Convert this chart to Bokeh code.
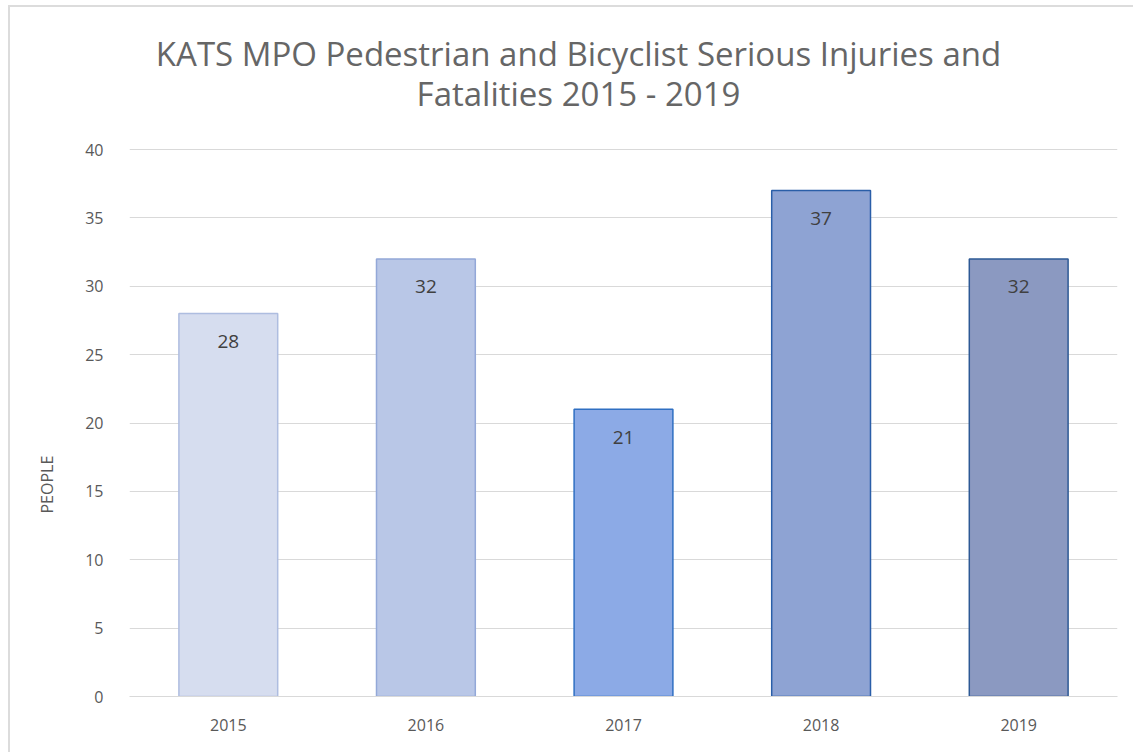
from bokeh.plotting import figure
from bokeh.models import ColumnDataSource, FactorRange, Range1d, LabelSet, FixedTicker, Title
from bokeh.core.properties import value
from bokeh.embed import file_html
from bokeh.resources import INLINE

years = ["2015", "2016", "2017", "2018", "2019"]
people = [28, 32, 21, 37, 32]
fill_colors = ["#d6ddef", "#b9c7e7", "#8caae6", "#8ea3d3", "#8b99c1"]
line_colors = ["#aebde0", "#93a8d8", "#2f6fc2", "#2a5ea8", "#2d5995"]
title_lines = ["KATS MPO Pedestrian and Bicyclist Serious Injuries and", "Fatalities 2015 - 2019"]
y_label = "PEOPLE"
y_ticks = [0, 5, 10, 15, 20, 25, 30, 35, 40]
y_max = 40

FONT = "Open Sans"
GREY = "#595959"

# canvas origin inside the page (margin + border)
OX, OY = 10, 7
W, H = 1125, 747
FRAME_LEFT, FRAME_RIGHT = 125 - OX, 1117 - OX
FRAME_TOP, FRAME_BOTTOM = 12 - OY, 696 - OY
PX_PER_UNIT = (696 - 149) / y_max
y_end = (FRAME_BOTTOM - FRAME_TOP) / PX_PER_UNIT

source = ColumnDataSource(dict(years=years, people=people, fill=fill_colors, line=line_colors,
                               lbl=[str(v) for v in people]))

p = figure(width=W, height=H, x_range=FactorRange(*years, range_padding=0),
           y_range=Range1d(0, y_end), output_backend="svg", toolbar_location=None,
           min_border_left=FRAME_LEFT, min_border_right=W - FRAME_RIGHT,
           min_border_top=FRAME_TOP, min_border_bottom=H - FRAME_BOTTOM,
           margin=(5, 0, 0, 8),
           styles={"border-top": "2px solid #dcdcdc", "border-left": "2px solid #dcdcdc"})
p.outline_line_color = None
p.background_fill_color = "white"
p.border_fill_color = "white"

p.vbar(x="years", top="people", width=0.5, source=source, fill_color="fill",
       line_color="line", line_width=1.5)

labels = LabelSet(x="years", y="people", text="lbl", source=source, y_offset=-28,
                  text_align="center", text_baseline="middle", text_font_size="19px",
                  text_color="#404040", text_font=value(FONT))
p.add_layout(labels)

# axes
p.yaxis.ticker = FixedTicker(ticks=y_ticks)
p.yaxis.axis_line_color = None
p.yaxis.major_tick_line_color = None
p.yaxis.minor_tick_line_color = None
p.yaxis.major_label_standoff = 20
p.yaxis.major_label_text_font_size = "16px"
p.yaxis.major_label_text_color = GREY
p.yaxis.major_label_text_font = FONT

p.xaxis.axis_line_color = "#d9d9d9"
p.xaxis.major_tick_line_color = None
p.xaxis.minor_tick_line_color = None
p.xaxis.major_label_standoff = 16
p.xaxis.major_label_text_font_size = "16px"
p.xaxis.major_label_text_color = GREY
p.xaxis.major_label_text_font = FONT

p.xgrid.grid_line_color = None
p.ygrid.grid_line_color = "#d9d9d9"
p.ygrid.grid_line_width = 1

# y axis title, placed low on the left side like the original
p.add_layout(Title(text=y_label, align="left", offset=183, vertical_align="middle",
                   standoff=48, text_font_size="16px", text_font_style="normal",
                   text_color=GREY, text_font=FONT), "left")

# two-line chart title, centred over the whole chart
title_src = ColumnDataSource(dict(
    x=[years[2], years[2]],
    y=[(696 - 52.5) / PX_PER_UNIT, (696 - 93) / PX_PER_UNIT],
    t=title_lines))
p.text(x="x", y="y", text="t", source=title_src, x_offset=-45, text_align="center",
       text_baseline="middle", text_font_size="33px", text_color="#666666",
       text_font=value(FONT))

open("out.html", "w").write(file_html(p, INLINE))
